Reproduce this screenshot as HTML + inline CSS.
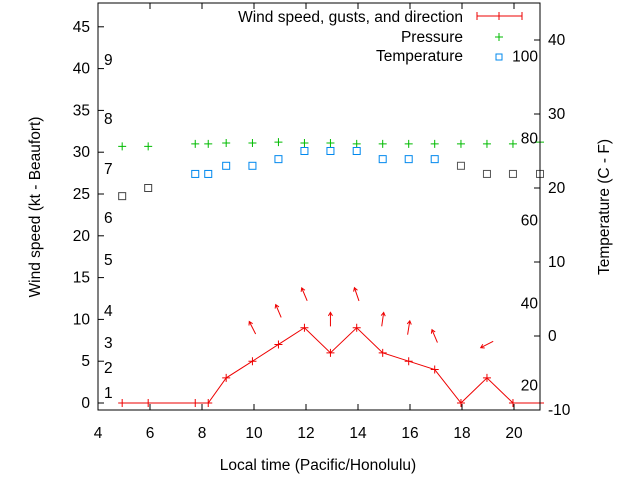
<!DOCTYPE html>
<html><head><meta charset="utf-8"><style>
body{margin:0;background:#fff}
svg{display:block;font-family:"Liberation Sans",sans-serif}
text{font-size:14px;fill:#000}
.big{font-size:15.5px}
</style></head><body>
<svg id="chart" width="640" height="480">
<rect x="0" y="0" width="640" height="480" fill="#fff"/>
<g id="grid"></g>
<g id="marks"></g>
<rect x="98" y="3" width="442" height="407" fill="none" stroke="#000" stroke-width="1"/>
<text class="big" x="318" y="470" text-anchor="middle">Local time (Pacific/Honolulu)</text>
<text class="big" transform="translate(40,207) rotate(-90)" text-anchor="middle">Wind speed (kt - Beaufort)</text>
<text class="big" transform="translate(609,207) rotate(-90)" text-anchor="middle">Temperature (C - F)</text>
<g>
<text class="big" x="463" y="22" text-anchor="end">Wind speed, gusts, and direction</text>
<path d="M477 16H522M477 12V20M499 12V20M522 12V20" stroke="#e00"/>
<text class="big" x="463" y="42" text-anchor="end">Pressure</text>
<path d="M495 37H503M499 33V41" stroke="#0b0"/>
<text class="big" x="463" y="61" text-anchor="end">Temperature</text>
<rect x="496" y="54" width="6" height="6" fill="none" stroke="#08e"/>
</g>
</svg>
<script>
const times=[4.93,5.93,7.74,8.24,8.93,9.94,10.94,11.94,12.94,13.95,14.95,15.95,16.95,17.96,18.96,19.96,21];
const wind=[0,0,0,0,3,5,7,9,6,9,6,5,4,0,3,0,0];
const gust=[null,null,null,null,null,9,11,13,10,13,10,9,8,null,7,null,null];
const windDir=[null,null,null,null,null,-27,-23,-23,0,-19,8,9,-23,null,-117,null,null];
const tempC=[18.9,20,21.9,21.9,23,23,23.9,25,25,25,23.9,23.9,23.9,23,21.9,21.9,21.9];
const pressure=[30.7,30.7,31.0,31.0,31.1,31.1,31.2,31.1,31.1,31.0,31.0,31.0,31.0,31.0,31.0,31.0,31.2];
const xTicks=[4,6,8,10,12,14,16,18,20];
const yTicks=[0,5,10,15,20,25,30,35,40,45];
const y2Ticks=[-10,0,10,20,30,40];
const beaufort=[[1,393],[2,368],[3,343],[4,311],[5,260],[6,218],[7,169],[8,119],[9,60]];
const fahr=[[20,-6.7],[40,4.4],[60,15.6],[80,26.7],[100,37.8]];
const X=t=>98+(t-4)*(442/17);
const Y=v=>403-v*8.36;
const Y2=v=>336-v*7.4;
const NS='http://www.w3.org/2000/svg';
const grid=document.getElementById('grid'),marks=document.getElementById('marks');
function mk(tag,attrs,parent){const e=document.createElementNS(NS,tag);for(const k in attrs)e.setAttribute(k,attrs[k]);parent.appendChild(e);return e;}
xTicks.forEach(t=>{
 const x=X(t);
 const l=mk('path',{d:`M${x} 410V404M${x} 3V9`,stroke:'#000'},grid);
 
 
 const tx=mk('text',{x:x,y:438,'text-anchor':'middle',class:'big'},grid);tx.textContent=t;
 
 
});
yTicks.forEach(v=>{
 const y=Y(v);
 const l=mk('path',{d:`M98 ${y}H104`,stroke:'#000'},grid);
 
 
 const tx=mk('text',{x:90,y:y+5,'text-anchor':'end',class:'big'},grid);tx.textContent=v;
 
 
});
y2Ticks.forEach(v=>{
 const y=Y2(v);
 const l=mk('path',{d:`M540 ${y}H534`,stroke:'#000'},grid);
 
 
 const tx=mk('text',{x:548,y:y+5,class:'big'},grid);tx.textContent=v;
 
 
});
beaufort.forEach(b=>{
 const tx=mk('text',{x:104,y:b[1]+5,class:'big'},grid);tx.textContent=b[0];
 
 
});
fahr.forEach(f=>{
 const tx=mk('text',{x:538,y:Y2(f[1])+5,'text-anchor':'end',class:'big'},grid);tx.textContent=f[0];
 
 
});
times.forEach((t,i)=>{
 const x=X(t),y=Y(pressure[i]);
 const p=mk('path',{d:`M${x-4} ${y}H${x+4}M${x} ${y-4}V${y+4}`,stroke:'#0b0'},marks);
 
 
});
times.forEach((t,i)=>{
 const x=X(t),y=Y2(tempC[i]);
 const r=mk('rect',{x:x-3.5,y:y-3.5,width:7,height:7,fill:'none',stroke:i<2?'#444':(i>12?'#555':'#08e')},marks);
 
 
});
const line=mk('polyline',{points:times.map((t,i)=>X(t)+','+Y(wind[i])).join(' '),fill:'none',stroke:'#e00','stroke-width':1},marks);


times.forEach((t,i)=>{
 const x=X(t),y=Y(wind[i]);
 const p=mk('path',{d:`M${x-4} ${y}H${x+4}M${x} ${y-4}V${y+4}`,stroke:'#e00'},marks);
 
 
});
times.forEach((t,i)=>{
 if(gust[i]===null)return;
 const cx=X(t),cy=Y(gust[i]),a=windDir[i]*Math.PI/180,L=7;
 const dx=Math.sin(a)*L,dy=-Math.cos(a)*L;
 const hx=cx+dx,hy=cy+dy;
 const ax=Math.sin(a+2.6)*4,ay=-Math.cos(a+2.6)*4,bx=Math.sin(a-2.6)*4,by=-Math.cos(a-2.6)*4;
 const p=mk('path',{d:`M${cx-dx} ${cy-dy}L${hx} ${hy}M${hx+ax} ${hy+ay}L${hx} ${hy}L${hx+bx} ${hy+by}`,stroke:'#e00',fill:'none'},marks);
 
 
});
</script>
</body></html>
